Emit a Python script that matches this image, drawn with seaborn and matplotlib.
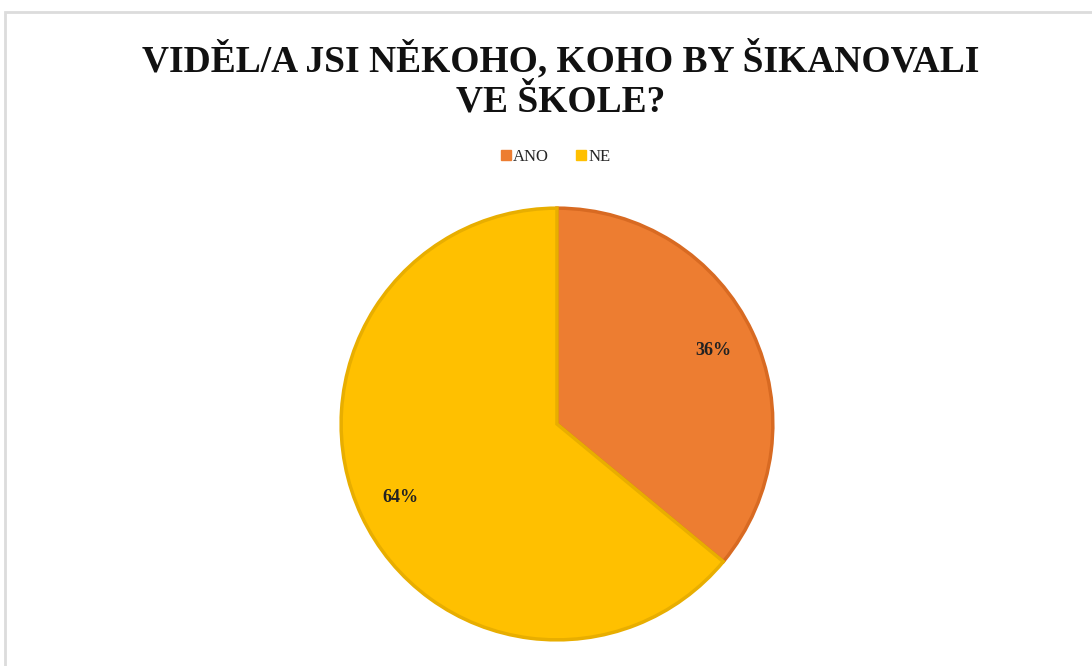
import matplotlib
matplotlib.use("Agg")
import matplotlib.pyplot as plt
import seaborn as sns
from matplotlib.patches import Rectangle
from matplotlib.lines import Line2D

categories = ["ANO", "NE"]
shares = [36, 64]
title = "VIDĚL/A JSI NĚKOHO, KOHO BY ŠIKANOVALI\nVE ŠKOLE?"

sns.set_theme(style="white")
plt.rcParams['font.family'] = ['Liberation Serif', 'DejaVu Serif']

colors = sns.color_palette(["#ED7D31", "#FFC000"])
edges = ["#D86A22", "#E8AE00"]

fig = plt.figure(figsize=(10.92, 6.66), dpi=100)
fig.patch.set_facecolor("white")

# light chart frame (the screenshot crops it at right and bottom)
fig.patches.append(Rectangle((5 / 1092, -0.05), 1.2, 1 - 12 / 666 + 0.05,
                             transform=fig.transFigure, fill=False,
                             edgecolor="#dcdcdc", linewidth=2))

fig.text(0.513, 1 - 112 / 666, title, ha="center", va="baseline",
         fontsize=27, fontweight="bold", color="#111111", linespacing=1.22)

ax = fig.add_axes([0.3104, 0.036, 0.3993, 0.6547])
wedges, texts, autotexts = ax.pie(
    shares, colors=colors, startangle=90, counterclock=False,
    autopct="%1.0f%%", pctdistance=0.8,
    wedgeprops=dict(linewidth=2.5),
    textprops=dict(fontsize=13, fontweight="bold", color="#222222"))
for w, e in zip(wedges, edges):
    w.set_edgecolor(e)
ax.set_xlim(-1.01, 1.01)
ax.set_ylim(-1.01, 1.01)
ax.set_aspect("equal")

handles = [Line2D([], [], marker="s", linestyle="", markersize=7,
                  markerfacecolor=c, markeredgecolor=c) for c in colors]
fig.legend(handles, categories, loc="center", bbox_to_anchor=(0.508, 1 - 157 / 666),
           ncol=2, frameon=False, fontsize=12, handletextpad=0.05,
           columnspacing=1.5, handlelength=0.8)

fig.savefig("out.png", dpi=100)
